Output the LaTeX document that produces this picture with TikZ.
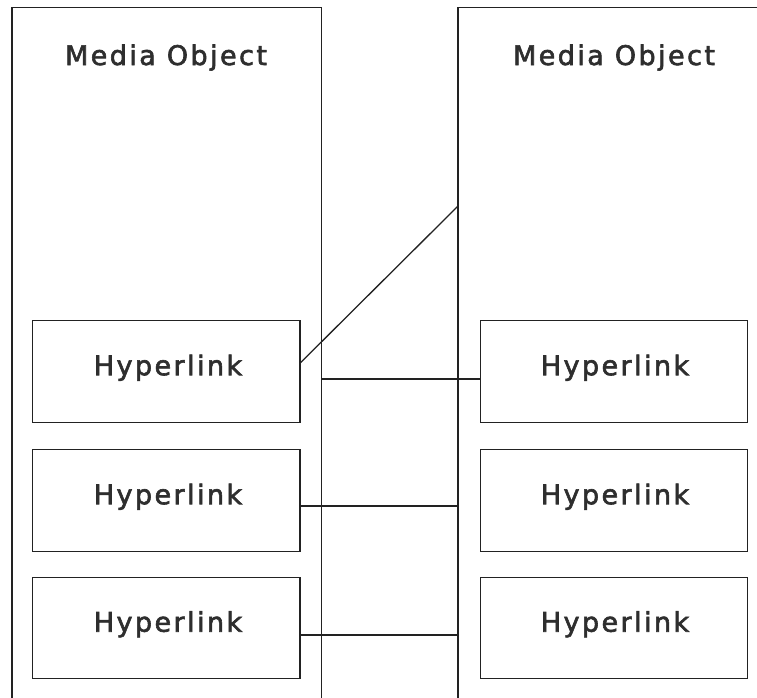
\documentclass[tikz,border=0pt]{standalone}
\usepackage{fontspec}
\newfontfamily\lblfont[LetterSpace=9,FakeBold=2.2]{DejaVu Sans}
\definecolor{linec}{HTML}{222222}
\definecolor{textc}{HTML}{2E2E2E}
\tikzset{
  column/.style={draw=linec, line width=1.3pt, rectangle, inner sep=0pt, fill=white},
  linkbox/.style={draw=linec, line width=1.3pt, rectangle, inner sep=0pt, minimum width=267.5pt, minimum height=101.5pt, fill=white},
  lbl/.style={font=\lblfont\fontsize{27}{30}\selectfont, text=textc, anchor=base, inner sep=0pt},
  conn/.style={draw=linec, line width=1.3pt},
}
\begin{document}
\begin{tikzpicture}[x=1pt,y=-1pt]
\useasboundingbox (0,0) rectangle (757,697);
\clip (0,0) rectangle (757,697);
% columns
\node[column, minimum width=309.7pt, minimum height=712.5pt] (lcol) at (166.85,363.75) {};
\node[column, minimum width=312pt, minimum height=712.5pt] (rcol) at (614,363.75) {};
\node[lbl] (ltitle) at (166,65) {Media Object};
\node[lbl] (rtitle) at (614,65) {Media Object};
% left boxes
\node[linkbox] (l1) at (166.1,371.5) {};
\node[linkbox] (l2) at (166.1,500.5) {};
\node[linkbox] (l3) at (166.1,628) {};
% right boxes
\node[linkbox, minimum width=266.6pt] (r1) at (614,371.5) {};
\node[linkbox, minimum width=266.6pt] (r2) at (614,500.5) {};
\node[linkbox, minimum width=266.6pt] (r3) at (614,628) {};
% labels
\node[lbl] (l1t) at (168,375.2) {Hyperlink};
\node[lbl] (l2t) at (168,504.2) {Hyperlink};
\node[lbl] (l3t) at (168,631.7) {Hyperlink};
\node[lbl] (r1t) at (615,375.2) {Hyperlink};
\node[lbl] (r2t) at (615,504.2) {Hyperlink};
\node[lbl] (r3t) at (615,631.7) {Hyperlink};
% connectors
\coordinate (d1) at (l1.east |- 0,362.7);
\coordinate (d2) at (rcol.west |- 0,206.7);
\draw[conn] (d1) -- (d2);
\draw[conn] (lcol.east |- 0,379) -- (r1.west |- 0,379);
\draw[conn] (l2.east |- 0,506) -- (rcol.west |- 0,506);
\draw[conn] (l3.east |- 0,635) -- (rcol.west |- 0,635);
\end{tikzpicture}
\end{document}
